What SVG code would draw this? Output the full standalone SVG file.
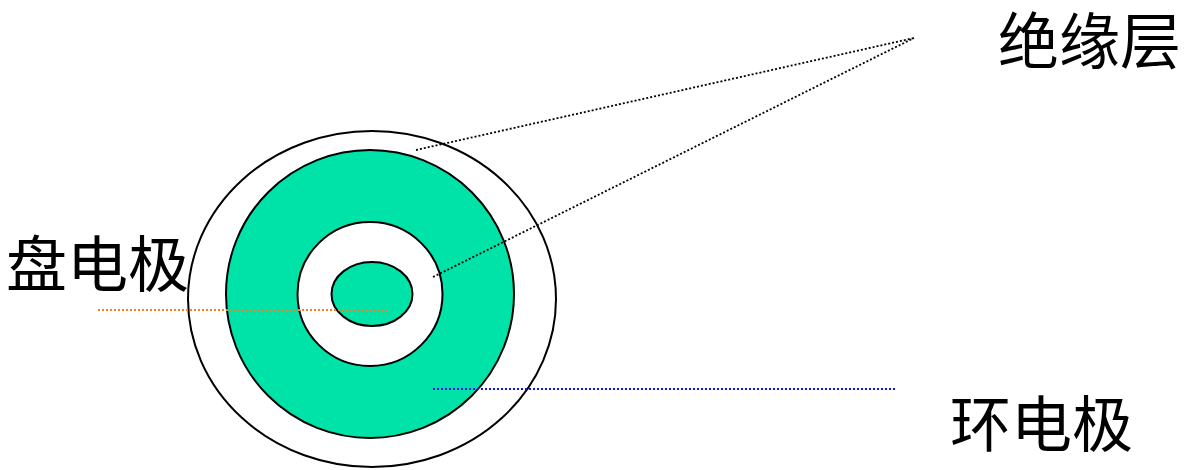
<svg xmlns="http://www.w3.org/2000/svg" width="1188" height="470" viewBox="0 0 1188 470">
<style>
.shape{stroke:#000;stroke-width:2}
.green{fill:#00E3A8}
.white{fill:#fff}
.lbl{font-family:"Noto Sans CJK SC","Liberation Sans",sans-serif;font-size:61px;fill:#000}
.dot{fill:none;stroke-width:1.8;stroke-dasharray:2 2}
</style>
<rect width="1188" height="470" fill="#fff"/>
<g id="outer"><ellipse class="shape white" cx="372" cy="299" rx="184" ry="168"/></g>
<g id="ring-electrode"><ellipse class="shape green" cx="370" cy="294" rx="144" ry="144"/></g>
<g id="insulation-ring"><ellipse class="shape white" cx="370" cy="294" rx="72.5" ry="72"/></g>
<g id="disk-electrode"><ellipse class="shape green" cx="372" cy="294" rx="40.5" ry="32"/></g>
<g id="connectors">
<line class="dot" x1="416" y1="150" x2="914" y2="38" stroke="#000"/>
<line class="dot" x1="433" y1="277" x2="914" y2="38" stroke="#000"/>
<line class="dot" x1="98" y1="310" x2="387" y2="310" stroke="#F5821F"/>
<line class="dot" x1="433" y1="389" x2="896" y2="389" stroke="#1010F0"/>
</g>
<g id="label-insulation"><text class="lbl" x="998" y="64">绝缘层</text></g>
<g id="label-disk"><text class="lbl" x="6" y="287">盘电极</text></g>
<g id="label-ring"><text class="lbl" x="950" y="447">环电极</text></g>
</svg>
